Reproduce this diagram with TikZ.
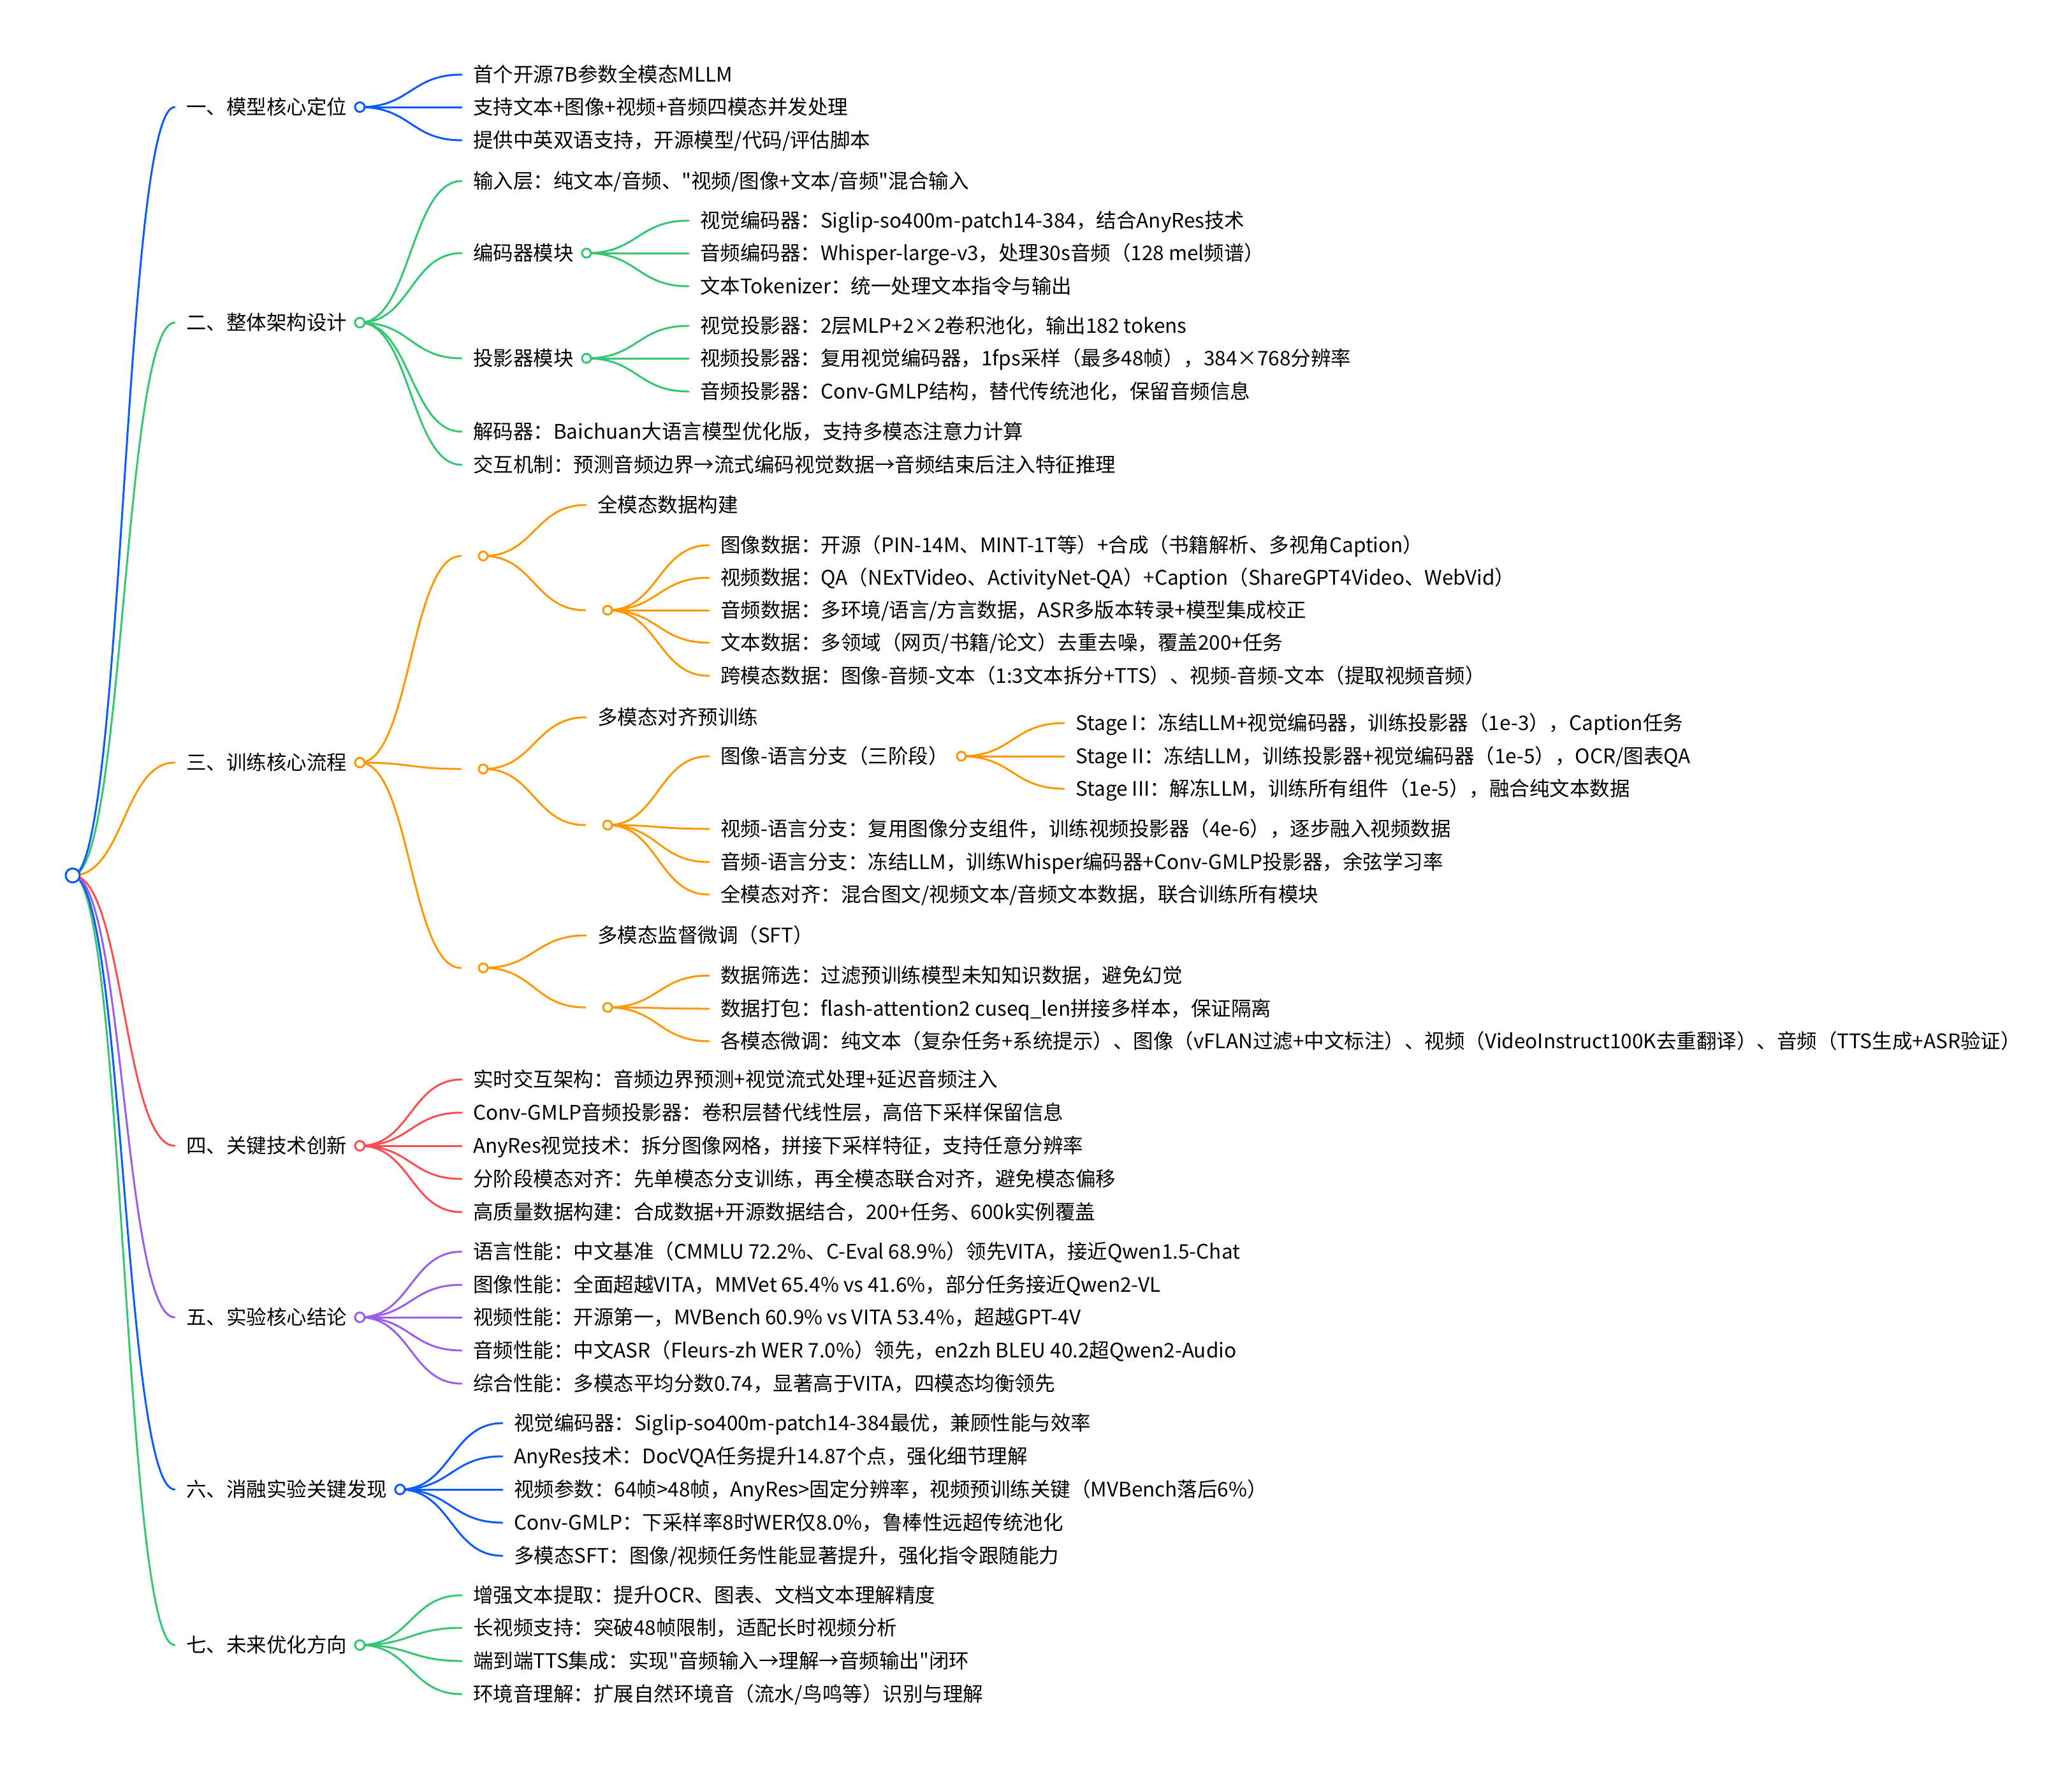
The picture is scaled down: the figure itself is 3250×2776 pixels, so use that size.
\documentclass[tikz,border=0pt]{standalone}
\usepackage{fontspec}
\newfontfamily\cjk{Noto Sans CJK SC}
\usetikzlibrary{calc}
\definecolor{cblue}{HTML}{0A5AFF}
\definecolor{cgreen}{HTML}{33C771}
\definecolor{corange}{HTML}{FF9800}
\definecolor{cred}{HTML}{FF4D4F}
\definecolor{cpurple}{HTML}{9C5CEB}
\tikzset{
  txt/.style={anchor=west, inner sep=0pt, text height=27.7pt, text depth=3.8pt,
    font=\cjk\fontsize{31.5}{36}\selectfont, text=black},
  lnk/.style={line width=3pt, line cap=round},
  dotc/.style={line width=3pt, fill=white, draw=#1},
}
\newcommand\mmlink[3]{\draw[lnk,#1] let \p1=(#2), \p2=(#3) in (\p1) .. controls ({0.5*\x1+0.5*\x2},\y1) and ({0.5*\x1+0.5*\x2},\y2) .. (\p2);}
\newcommand\mmnode[4]{\node[txt] (#1) at (#2,#3) {#4};
  \coordinate (#1-p) at ([xshift=-18pt]#1.west);
  \coordinate (#1-c) at ([xshift=20pt]#1.east);}
\newcommand\mmempty[3]{\coordinate (#1-p) at (#2,#3);
  \coordinate (#1-c) at ([xshift=35pt]#1-p);}
\begin{document}
\begin{tikzpicture}[x=1pt,y=-1pt]
\useasboundingbox (0,0) rectangle (3250,2776);
\fill[white] (0,0) rectangle (3250,2776);
\coordinate (root-c) at (114,1373);
% level 1
\mmnode{n1}{292}{168}{一、模型核心定位}
\mmnode{n2}{292}{506}{二、整体架构设计}
\mmnode{n3}{292}{1196}{三、训练核心流程}
\mmnode{n4}{292}{1797}{四、关键技术创新}
\mmnode{n5}{292}{2066}{五、实验核心结论}
\mmnode{n6}{292}{2336}{六、消融实验关键发现}
\mmnode{n7}{292}{2580}{七、未来优化方向}
% section 1
\mmnode{n1a}{742}{117}{首个开源7B参数全模态MLLM}
\mmnode{n1b}{742}{168}{支持文本+图像+视频+音频四模态并发处理}
\mmnode{n1c}{742}{220}{提供中英双语支持，开源模型/代码/评估脚本}
% section 2
\mmnode{n2a}{742}{284}{输入层：纯文本/音频、"视频/图像+文本/音频"混合输入}
\mmnode{n2b}{742}{397}{编码器模块}
\mmnode{n2b1}{1098}{346}{视觉编码器：Siglip-so400m-patch14-384，结合AnyRes技术}
\mmnode{n2b2}{1098}{397}{音频编码器：Whisper-large-v3，处理30s音频（128 mel频谱）}
\mmnode{n2b3}{1098}{449}{文本Tokenizer：统一处理文本指令与输出}
\mmnode{n2c}{742}{562}{投影器模块}
\mmnode{n2c1}{1098}{511}{视觉投影器：2层MLP+2×2卷积池化，输出182 tokens}
\mmnode{n2c2}{1098}{562}{视频投影器：复用视觉编码器，1fps采样（最多48帧），384×768分辨率}
\mmnode{n2c3}{1098}{614}{音频投影器：Conv-GMLP结构，替代传统池化，保留音频信息}
\mmnode{n2d}{742}{677}{解码器：Baichuan大语言模型优化版，支持多模态注意力计算}
\mmnode{n2e}{742}{729}{交互机制：预测音频边界→流式编码视觉数据→音频结束后注入特征推理}
% section 3
\mmempty{e1}{723}{872}
\mmnode{n3a}{937}{792}{全模态数据构建}
\mmempty{e1d}{918}{957}
\mmnode{n3d1}{1130}{855}{图像数据：开源（PIN-14M、MINT-1T等）+合成（书籍解析、多视角Caption）}
\mmnode{n3d2}{1130}{906}{视频数据：QA（NExTVideo、ActivityNet-QA）+Caption（ShareGPT4Video、WebVid）}
\mmnode{n3d3}{1130}{957}{音频数据：多环境/语言/方言数据，ASR多版本转录+模型集成校正}
\mmnode{n3d4}{1130}{1008}{文本数据：多领域（网页/书籍/论文）去重去噪，覆盖200+任务}
\mmnode{n3d5}{1130}{1060}{跨模态数据：图像-音频-文本（1:3文本拆分+TTS）、视频-音频-文本（提取视频音频）}
\mmempty{e2}{723}{1206}
\mmnode{n3b}{937}{1125}{多模态对齐预训练}
\mmempty{e3}{918}{1294}
\mmnode{n3i}{1130}{1186}{图像-语言分支（三阶段）}
\mmnode{n3s1}{1687}{1134}{Stage I：冻结LLM+视觉编码器，训练投影器（1e-3），Caption任务}
\mmnode{n3s2}{1687}{1186}{Stage II：冻结LLM，训练投影器+视觉编码器（1e-5），OCR/图表QA}
\mmnode{n3s3}{1687}{1237}{Stage III：解冻LLM，训练所有组件（1e-5），融合纯文本数据}
\mmnode{n3v}{1130}{1300}{视频-语言分支：复用图像分支组件，训练视频投影器（4e-6），逐步融入视频数据}
\mmnode{n3au}{1130}{1352}{音频-语言分支：冻结LLM，训练Whisper编码器+Conv-GMLP投影器，余弦学习率}
\mmnode{n3all}{1130}{1403}{全模态对齐：混合图文/视频文本/音频文本数据，联合训练所有模块}
\mmempty{e4}{723}{1518}
\mmnode{n3c}{937}{1467}{多模态监督微调（SFT）}
\mmempty{e5}{918}{1580}
\mmnode{n3f1}{1130}{1530}{数据筛选：过滤预训练模型未知知识数据，避免幻觉}
\mmnode{n3f2}{1130}{1582}{数据打包：flash-attention2 cuseq\_len拼接多样本，保证隔离}
\mmnode{n3f3}{1130}{1633}{各模态微调：纯文本（复杂任务+系统提示）、图像（vFLAN过滤+中文标注）、视频（VideoInstruct100K去重翻译）、音频（TTS生成+ASR验证）}
% section 4
\mmnode{n4a}{742}{1693}{实时交互架构：音频边界预测+视觉流式处理+延迟音频注入}
\mmnode{n4b}{742}{1745}{Conv-GMLP音频投影器：卷积层替代线性层，高倍下采样保留信息}
\mmnode{n4c}{742}{1797}{AnyRes视觉技术：拆分图像网格，拼接下采样特征，支持任意分辨率}
\mmnode{n4d}{742}{1849}{分阶段模态对齐：先单模态分支训练，再全模态联合对齐，避免模态偏移}
\mmnode{n4e}{742}{1901}{高质量数据构建：合成数据+开源数据结合，200+任务、600k实例覆盖}
% section 5
\mmnode{n5a}{742}{1963}{语言性能：中文基准（CMMLU 72.2\%、C-Eval 68.9\%）领先VITA，接近Qwen1.5-Chat}
\mmnode{n5b}{742}{2015}{图像性能：全面超越VITA，MMVet 65.4\% vs 41.6\%，部分任务接近Qwen2-VL}
\mmnode{n5c}{742}{2066}{视频性能：开源第一，MVBench 60.9\% vs VITA 53.4\%，超越GPT-4V}
\mmnode{n5d}{742}{2118}{音频性能：中文ASR（Fleurs-zh WER 7.0\%）领先，en2zh BLEU 40.2超Qwen2-Audio}
\mmnode{n5e}{742}{2170}{综合性能：多模态平均分数0.74，显著高于VITA，四模态均衡领先}
% section 6
\mmnode{n6a}{806}{2232}{视觉编码器：Siglip-so400m-patch14-384最优，兼顾性能与效率}
\mmnode{n6b}{806}{2284}{AnyRes技术：DocVQA任务提升14.87个点，强化细节理解}
\mmnode{n6c}{806}{2336}{视频参数：64帧>48帧，AnyRes>固定分辨率，视频预训练关键（MVBench落后6\%）}
\mmnode{n6d}{806}{2388}{Conv-GMLP：下采样率8时WER仅8.0\%，鲁棒性远超传统池化}
\mmnode{n6e}{806}{2440}{多模态SFT：图像/视频任务性能显著提升，强化指令跟随能力}
% section 7
\mmnode{n7a}{742}{2502}{增强文本提取：提升OCR、图表、文档文本理解精度}
\mmnode{n7b}{742}{2553}{长视频支持：突破48帧限制，适配长时视频分析}
\mmnode{n7c}{742}{2605}{端到端TTS集成：实现"音频输入→理解→音频输出"闭环}
\mmnode{n7d}{742}{2657}{环境音理解：扩展自然环境音（流水/鸟鸣等）识别与理解}
% links from root
\mmlink{cgreen}{root-c}{n7-p}
\mmlink{cblue}{root-c}{n6-p}
\mmlink{cpurple}{root-c}{n5-p}
\mmlink{cred}{root-c}{n4-p}
\mmlink{corange}{root-c}{n3-p}
\mmlink{cgreen}{root-c}{n2-p}
\mmlink{cblue}{root-c}{n1-p}
% section links
\foreach \t in {n1a,n1b,n1c} {\mmlink{cblue}{n1-c}{\t-p}}
\foreach \t in {n2a,n2b,n2c,n2d,n2e} {\mmlink{cgreen}{n2-c}{\t-p}}
\foreach \t in {n2b1,n2b2,n2b3} {\mmlink{cgreen}{n2b-c}{\t-p}}
\foreach \t in {n2c1,n2c2,n2c3} {\mmlink{cgreen}{n2c-c}{\t-p}}
\foreach \t in {e1,e2,e4} {\mmlink{corange}{n3-c}{\t-p}}
\foreach \t in {n3a,e1d} {\mmlink{corange}{e1-c}{\t-p}}
\foreach \t in {n3d1,n3d2,n3d3,n3d4,n3d5} {\mmlink{corange}{e1d-c}{\t-p}}
\foreach \t in {n3b,e3} {\mmlink{corange}{e2-c}{\t-p}}
\foreach \t in {n3i,n3v,n3au,n3all} {\mmlink{corange}{e3-c}{\t-p}}
\foreach \t in {n3s1,n3s2,n3s3} {\mmlink{corange}{n3i-c}{\t-p}}
\foreach \t in {n3c,e5} {\mmlink{corange}{e4-c}{\t-p}}
\foreach \t in {n3f1,n3f2,n3f3} {\mmlink{corange}{e5-c}{\t-p}}
\foreach \t in {n4a,n4b,n4c,n4d,n4e} {\mmlink{cred}{n4-c}{\t-p}}
\foreach \t in {n5a,n5b,n5c,n5d,n5e} {\mmlink{cpurple}{n5-c}{\t-p}}
\foreach \t in {n6a,n6b,n6c,n6d,n6e} {\mmlink{cblue}{n6-c}{\t-p}}
\foreach \t in {n7a,n7b,n7c,n7d} {\mmlink{cgreen}{n7-c}{\t-p}}
% circles
\draw[dotc=cblue] (root-c) circle (11pt);
\draw[dotc=cblue] (n1-c) circle (7.5pt);
\draw[dotc=cgreen] (n2-c) circle (7.5pt);
\draw[dotc=corange] (n3-c) circle (7.5pt);
\draw[dotc=cred] (n4-c) circle (7.5pt);
\draw[dotc=cpurple] (n5-c) circle (7.5pt);
\draw[dotc=cblue] (n6-c) circle (7.5pt);
\draw[dotc=cgreen] (n7-c) circle (7.5pt);
\foreach \c in {n2b,n2c} {\draw[dotc=cgreen] (\c-c) circle (7pt);}
\foreach \c in {e1,e1d,e2,e3,e4,e5,n3i} {\draw[dotc=corange] (\c-c) circle (7pt);}
\end{tikzpicture}
\end{document}
